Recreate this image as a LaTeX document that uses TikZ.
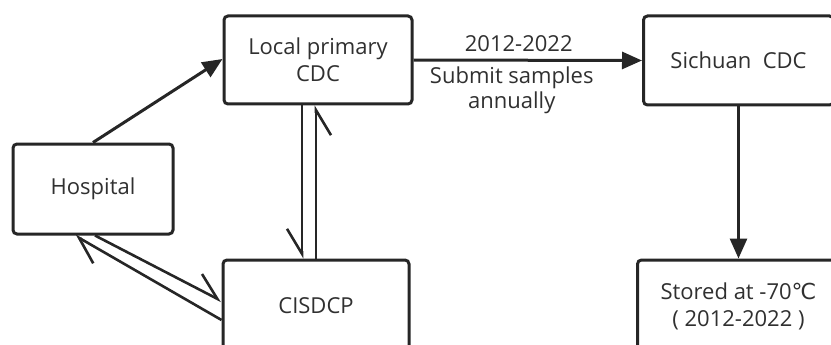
\documentclass[tikz,border=0pt]{standalone}
\usepackage{fontspec}
\setmainfont{Open Sans}
\newfontfamily\symfont{DejaVu Sans}
\usetikzlibrary{arrows.meta,calc}
\definecolor{ln}{HTML}{262626}
\definecolor{tx}{HTML}{303030}
\begin{document}
\begin{tikzpicture}[x=1pt,y=-1pt,
  box/.style={draw=ln,line width=3pt,rounded corners=4pt,fill=white,
    text=tx,align=center,inner sep=0pt,font=\fontsize{22}{27}\selectfont},
  tri/.style={draw=ln,line width=3pt,-{Triangle[length=20pt,width=17pt]}},
  harp/.style={draw=ln,line width=2.6pt,-{Straight Barb[length=25pt,width=30pt,#1]}},
  lbl/.style={text=tx,align=center,font=\fontsize{22}{25}\selectfont,inner sep=0pt}]
\useasboundingbox (0,0) rectangle (831,345);
\clip (0,0) rectangle (831,345);
\node[box,minimum width=188pt,minimum height=88pt] (loc) at (318,60) {Local primary\\CDC};
\node[box,minimum width=190pt,minimum height=89pt] (sic) at (738.5,60.5) {Sichuan\ \ CDC};
\node[box,minimum width=160pt,minimum height=90pt] (hos) at (93,189) {Hospital};
\node[box,minimum width=186pt,minimum height=92pt] (cis) at (316,306) {CISDCP};
\node[box,minimum width=202pt,minimum height=92pt] (sto) at (738.5,306) {Stored at -70{\symfont ℃}\\( 2012-2022 )};
\draw[tri] (hos.north) -- ([yshift=1pt]loc.west);
\draw[tri] (loc.east) -- node[lbl,above=7pt,xshift=-9pt]{2012-2022} node[lbl,below=5pt,xshift=-16pt]{Submit samples\\annually} (sic.west);
\draw[tri] (sic.south) -- (sto.north);
\draw[harp=right] ([xshift=-16pt]loc.south) -- ([xshift=-14pt]cis.north);
\draw[harp=right] (cis.north) -- ([xshift=-2pt]loc.south);
\draw[harp=left] ([xshift=2pt]hos.south) -- ([yshift=5pt]cis.west);
\draw[harp=left] ([yshift=-14pt]cis.west) -- ([xshift=-18pt]hos.south);
\end{tikzpicture}
\end{document}
